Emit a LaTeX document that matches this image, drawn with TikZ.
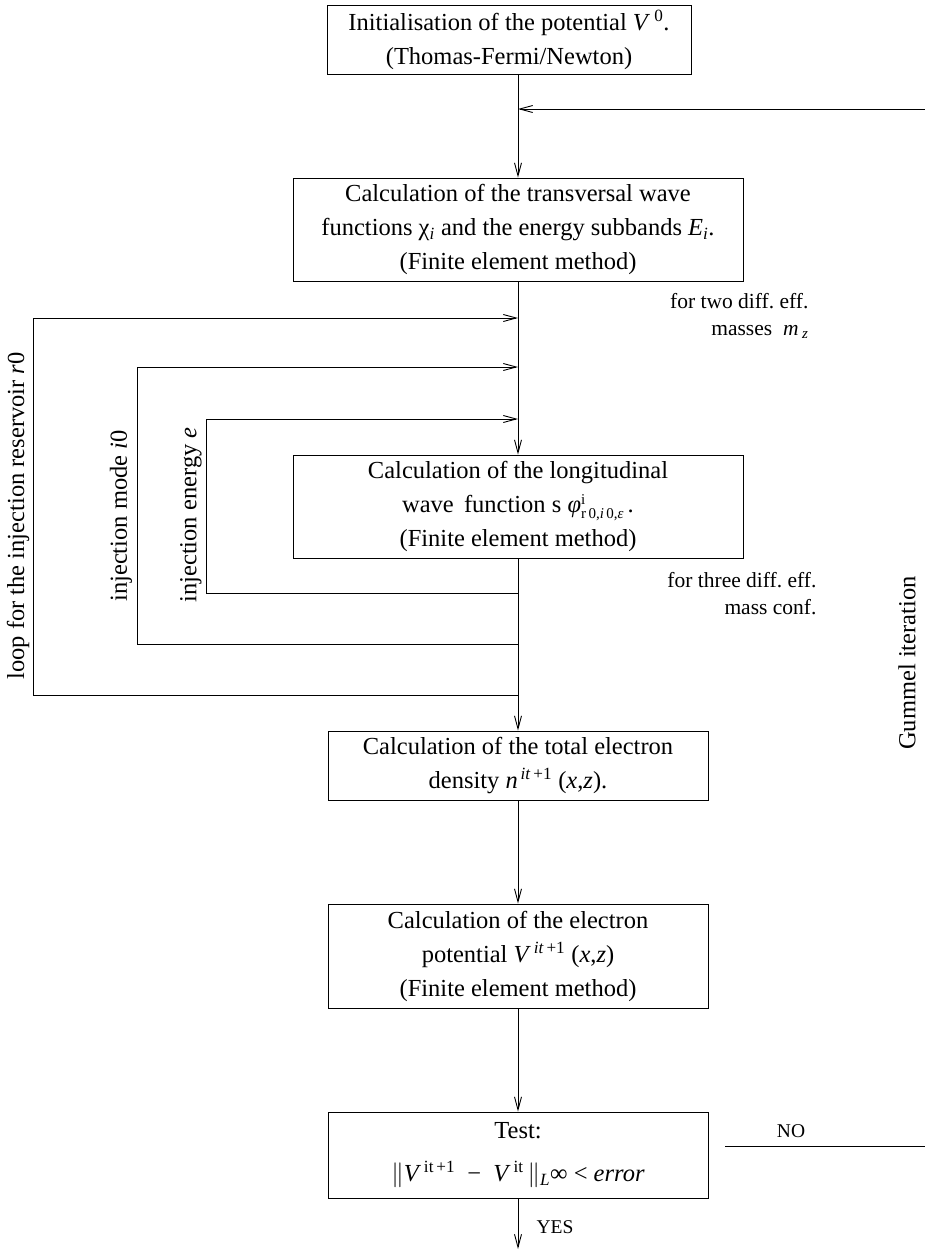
\documentclass[tikz,border=0pt]{standalone}
\usepackage{fontspec}
\setmainfont{Liberation Serif}
\usetikzlibrary{arrows.meta}
\newcommand\supsubx[2]{\rlap{\raisebox{0.75ex}{\fontsize{15}{15}\selectfont #1}}\raisebox{-0.55ex}{\fontsize{15}{15}\selectfont #2}}
\tikzset{
  flowbox/.style={draw, line width=0.9pt, inner sep=0pt, align=center,
    font=\fontsize{24.5}{34}\selectfont},
  arr/.style={line width=0.9pt, -{Straight Barb[length=13pt,width=7pt,line width=0.9pt]}},
  plain/.style={line width=0.9pt},
  sidenote/.style={align=right, anchor=east, font=\fontsize{21.5}{27}\selectfont},
  looplabel/.style={rotate=90, font=\fontsize{24.5}{28}\selectfont},
  small/.style={font=\fontsize{19.5}{22}\selectfont}
}
\begin{document}
\begin{tikzpicture}[x=1pt,y=-1pt]
\useasboundingbox (0,0) rectangle (925,1251);

\node[flowbox, minimum width=364pt, minimum height=69pt] (b1) at (509,39.5)
  {Initialisation of the potential \textit{V}\,\textsuperscript{0}.\\(Thomas-Fermi/Newton)};
\node[flowbox, minimum width=450pt, minimum height=103pt] (b2) at (518,229.5)
  {Calculation of the transversal wave\\functions χ\textsubscript{\textit{i}} and the energy subbands \textit{E}\textsubscript{\textit{i}}.\\(Finite element method)};
\node[flowbox, minimum width=450pt, minimum height=103pt] (b3) at (518,506.5)
  {Calculation of the longitudinal\\wave\, function s \textit{φ}\supsubx{i}{r\,0,\textit{i}\,0,\textit{ε}}\,.\\(Finite element method)};
\node[flowbox, minimum width=380pt, minimum height=69pt] (b4) at (518,765.5)
  {Calculation of the total electron\\density \textit{n}\textsuperscript{\,\textit{it}\,+1} (\textit{x},\textit{z}).};
\node[flowbox, minimum width=380pt, minimum height=104pt] (b5) at (518,956)
  {Calculation of the electron\\potential \textit{V}\textsuperscript{\,\textit{it}\,+1} (\textit{x},\textit{z})\\(Finite element method)};
\node[flowbox, minimum width=380pt, minimum height=86pt] (b6) at (518,1155)
  {Test:\\[9pt]$\Vert$\textit{V}\textsuperscript{\,it\,+1}\ \ −\ \ \textit{V}\textsuperscript{\,it}\,$\Vert$\textsubscript{\textit{L}}∞ < \textit{error}};

% main flow
\draw[arr] (b1.south -| b2.north) -- (b2.north);
\draw[arr] (b2) -- (b3);
\draw[arr] (b3) -- (b4);
\draw[arr] (b4) -- (b5);
\draw[arr] (b5) -- (b6);
\coordinate (yend) at (518,1249);
\draw[arr] (b6) -- (yend);
\node[small] (yes) at (555,1227) {YES};

% Gummel return
\coordinate (gin) at (925,109);
\draw[arr] (gin) -- (gin -| b2.north);
\coordinate (no1) at (725,1146);
\coordinate (no2) at (925,1146);
\draw[plain] (no1) -- (no2);
\node[small] (nolab) at (791,1131) {NO};
\node[looplabel] (gummel) at (907,663) {Gummel iteration};

% loops
\coordinate (l1t) at (33,318);  \coordinate (l1b) at (33,695);
\coordinate (l2t) at (137,367); \coordinate (l2b) at (137,644);
\coordinate (l3t) at (206,419); \coordinate (l3b) at (206,593);
\draw[arr] (l1t) -- (l1t -| b2.south);
\draw[arr] (l2t) -- (l2t -| b2.south);
\draw[arr] (l3t) -- (l3t -| b2.south);
\draw[plain] (l1t) -- (l1b) -- (l1b -| b3.south);
\draw[plain] (l2t) -- (l2b) -- (l2b -| b3.south);
\draw[plain] (l3t) -- (l3b) -- (l3b -| b3.south);

\node[looplabel] (lab1) at (18,516) {loop for the injection reservoir \textit{r}0};
\node[looplabel] (lab2) at (121,516) {injection mode \textit{i}0};
\node[looplabel] (lab3) at (191,515) {injection energy \textit{e}};

\node[sidenote] (note1) at (812,316) {for two diff.\ eff.\\masses\ \ \textit{m}\,\textsubscript{\textit{z}}};
\node[sidenote] (note2) at (820,594) {for three diff.\ eff.\\mass conf.};
\end{tikzpicture}
\end{document}
